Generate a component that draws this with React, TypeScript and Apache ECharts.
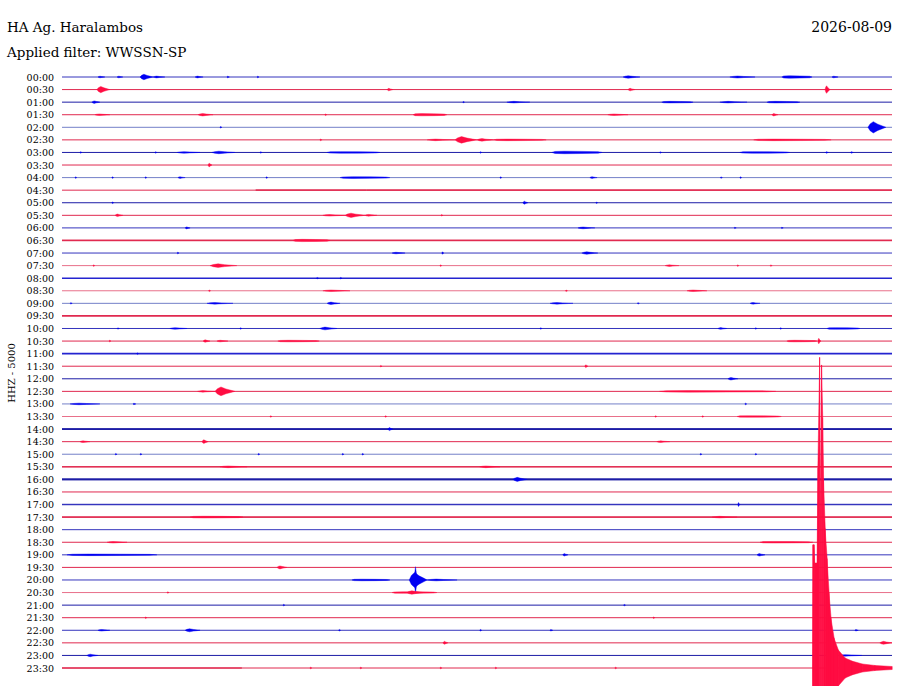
import React, { useEffect, useRef } from "react";
import * as echarts from "echarts";

const STATION = "HA Ag. Haralambos";
const FILTER = "Applied filter: WWSSN-SP";
const DATE = "2026-08-09";
const CHANNEL = "HHZ - 5000";

const TIME_LABELS = [
  "00:00", "00:30", "01:00", "01:30", "02:00", "02:30", "03:00", "03:30",
  "04:00", "04:30", "05:00", "05:30", "06:00", "06:30", "07:00", "07:30",
  "08:00", "08:30", "09:00", "09:30", "10:00", "10:30", "11:00", "11:30",
  "12:00", "12:30", "13:00", "13:30", "14:00", "14:30", "15:00", "15:30",
  "16:00", "16:30", "17:00", "17:30", "18:00", "18:30", "19:00", "19:30",
  "20:00", "20:30", "21:00", "21:30", "22:00", "22:30", "23:00", "23:30",
];
const MINUTES_PER_ROW = 30;

// [row, startMinute, endMinute, amplitude (trace spacings)]
const EVENTS = [
  [0, 1.3, 1.55, 0.06], [0, 1.99, 2.2, 0.06], [0, 2.82, 3.29, 0.22], [0, 3.29, 3.72, 0.07],
  [0, 4.81, 5.1, 0.07], [0, 5.96, 6.05, 0.05], [0, 7.05, 7.12, 0.05], [0, 20.28, 20.89, 0.1],
  [0, 24.14, 25.05, 0.08], [0, 26.02, 27.11, 0.1], [0, 27.83, 28.05, 0.06],
  [1, 1.26, 1.73, 0.25], [1, 11.75, 11.96, 0.1], [1, 20.46, 20.71, 0.1], [1, 27.58, 27.76, 0.3],
  [2, 1.08, 1.37, 0.1], [2, 14.49, 14.55, 0.05], [2, 16.08, 16.91, 0.06], [2, 21.68, 22.81, 0.05],
  [2, 23.78, 24.76, 0.06], [2, 25.48, 26.67, 0.06],
  [3, 1.19, 1.73, 0.06], [3, 4.92, 5.46, 0.1], [3, 9.5, 9.57, 0.05], [3, 12.69, 13.91, 0.09],
  [3, 19.73, 20.46, 0.05], [3, 25.66, 25.88, 0.1],
  [4, 5.71, 5.78, 0.06], [4, 29.13, 29.78, 0.45],
  [5, 9.32, 9.4, 0.06], [5, 13.2, 14.2, 0.06], [5, 14.2, 15.0, 0.26], [5, 15.0, 15.6, 0.1],
  [5, 15.6, 17.5, 0.05], [5, 25.0, 27.8, 0.04],
  [6, 0.65, 0.72, 0.05], [6, 3.36, 3.43, 0.05], [6, 4.16, 4.99, 0.05], [6, 5.42, 6.25, 0.1],
  [6, 7.16, 7.23, 0.05], [6, 9.58, 11.49, 0.06], [6, 15.1, 15.17, 0.05], [6, 17.71, 19.52, 0.1],
  [6, 21.6, 21.67, 0.05], [6, 24.5, 26.3, 0.05], [6, 27.6, 27.7, 0.06], [6, 28.5, 28.6, 0.06],
  [7, 5.28, 5.42, 0.15],
  [8, 0.47, 0.54, 0.05], [8, 1.8, 1.87, 0.05], [8, 3.0, 3.07, 0.05], [8, 4.19, 4.45, 0.06],
  [8, 7.37, 7.44, 0.05], [8, 10.05, 11.85, 0.07], [8, 15.83, 15.9, 0.05], [8, 19.08, 19.34, 0.07],
  [8, 23.8, 23.87, 0.05], [8, 24.5, 24.57, 0.05],
  [10, 1.8, 1.87, 0.05], [10, 16.66, 16.84, 0.12], [10, 19.3, 19.36, 0.05],
  [11, 1.92, 2.2, 0.1], [11, 9.43, 10.23, 0.06], [11, 10.23, 10.95, 0.17], [11, 10.95, 11.38, 0.07],
  [11, 13.7, 13.77, 0.05],
  [12, 4.45, 4.63, 0.08], [12, 18.65, 19.26, 0.07], [12, 24.3, 24.37, 0.05], [12, 26.0, 26.07, 0.05],
  [13, 8.35, 9.69, 0.09],
  [14, 4.16, 4.23, 0.05], [14, 11.93, 12.4, 0.06], [14, 13.73, 13.8, 0.1], [14, 18.79, 19.37, 0.1],
  [15, 1.12, 1.19, 0.05], [15, 5.35, 6.32, 0.14], [15, 13.66, 13.73, 0.05], [15, 21.8, 22.3, 0.04],
  [15, 24.4, 24.47, 0.05], [15, 25.6, 25.67, 0.05],
  [16, 9.2, 9.27, 0.05], [16, 10.05, 10.12, 0.05],
  [17, 5.3, 5.37, 0.05], [17, 9.43, 10.41, 0.05], [17, 18.2, 18.27, 0.05], [17, 22.59, 23.31, 0.05],
  [18, 0.3, 0.37, 0.05], [18, 5.24, 6.18, 0.06], [18, 9.58, 10.05, 0.1], [18, 17.64, 18.47, 0.06],
  [18, 20.8, 20.87, 0.05], [18, 24.87, 25.23, 0.06],
  [20, 2.0, 2.07, 0.05], [20, 3.9, 4.52, 0.06], [20, 6.43, 6.5, 0.05], [20, 9.32, 9.94, 0.11],
  [20, 17.28, 17.35, 0.05], [20, 23.71, 24.03, 0.07], [20, 25.05, 25.12, 0.05],
  [20, 25.95, 26.02, 0.05], [20, 27.65, 28.84, 0.05],
  [21, 1.7, 1.77, 0.05], [21, 5.1, 5.35, 0.1], [21, 5.6, 6.0, 0.05], [21, 7.8, 9.3, 0.04],
  [21, 26.2, 27.29, 0.05], [21, 27.32, 27.43, 0.22],
  [22, 2.7, 2.77, 0.05],
  [23, 11.5, 11.57, 0.05], [23, 18.9, 19.01, 0.12],
  [24, 24.07, 24.43, 0.1],
  [25, 5.53, 6.25, 0.35], [25, 4.9, 5.53, 0.05], [25, 21.6, 25.8, 0.04],
  [26, 0.29, 1.37, 0.05], [26, 2.57, 2.67, 0.06], [26, 24.68, 24.75, 0.05],
  [27, 7.52, 7.59, 0.05], [27, 11.67, 11.74, 0.05], [27, 21.43, 21.5, 0.05], [27, 23.13, 23.2, 0.05],
  [27, 24.4, 26.0, 0.04],
  [28, 11.78, 11.96, 0.12],
  [29, 0.65, 1.01, 0.07], [29, 5.06, 5.28, 0.15], [29, 21.5, 21.97, 0.06],
  [30, 1.92, 1.99, 0.05], [30, 2.82, 2.89, 0.05], [30, 7.08, 7.15, 0.05], [30, 10.12, 10.19, 0.05],
  [30, 10.84, 10.91, 0.05], [30, 23.06, 23.13, 0.05], [30, 25.05, 25.12, 0.05],
  [31, 5.71, 6.69, 0.07], [31, 15.1, 15.83, 0.07],
  [32, 16.3, 16.81, 0.16],
  [34, 24.43, 24.5, 0.16],
  [35, 4.63, 6.54, 0.07], [35, 23.5, 24.4, 0.06],
  [37, 1.63, 2.35, 0.06], [37, 25.23, 27.14, 0.05],
  [38, 0.18, 3.43, 0.04], [38, 18.1, 18.29, 0.1], [38, 25.12, 25.41, 0.1],
  [39, 7.77, 8.13, 0.12],
  [40, 10.48, 11.85, 0.05], [40, 12.55, 13.2, 0.6], [40, 12.74, 12.86, 1.05], [40, 13.2, 14.28, 0.07],
  [41, 3.8, 3.87, 0.05], [41, 11.93, 13.55, 0.06], [41, 12.47, 13.05, 0.14],
  [42, 7.99, 8.06, 0.05], [42, 20.3, 20.37, 0.05],
  [43, 3.0, 3.07, 0.05], [43, 21.36, 21.43, 0.05],
  [44, 1.3, 1.73, 0.06], [44, 4.45, 4.99, 0.12], [44, 10.0, 10.07, 0.05], [44, 15.1, 15.17, 0.05],
  [44, 17.64, 17.74, 0.06], [44, 28.66, 28.78, 0.06],
  [45, 13.77, 13.95, 0.12], [45, 29.56, 30.0, 0.12],
  [46, 0.9, 1.3, 0.1], [46, 28.05, 28.91, 0.05],
  [47, 8.96, 9.03, 0.05], [47, 10.77, 10.84, 0.05], [47, 13.66, 13.73, 0.05], [47, 15.65, 15.72, 0.05],
  [47, 19.98, 20.05, 0.05],
];

// [row, startMinute, endMinute, noise amplitude]
const NOISE_BANDS = [
  [9, 7.0, 11.0, 0.04], [9, 11.0, 30.0, 0.07],
  [13, 0.0, 30.0, 0.07],
  [28, 0.0, 30.0, 0.065],
  [31, 0.0, 30.0, 0.04],
  [32, 0.0, 30.0, 0.07],
  [34, 0.0, 30.0, 0.035],
  [35, 0.0, 30.0, 0.045],
  [47, 0.0, 6.5, 0.04],
];

// the large event on the last trace: [minute, amplitude up, amplitude down]
const QUAKE_ROW = 47;
const QUAKE_ENVELOPE = [
  [27.13, 0, 0], [27.14, 9.8, 9.8], [27.18, 9.8, 9.8], [27.2, 8.35, 8.35], [27.29, 8.35, 8.35],
  [27.32, 15.9, 15.9], [27.38, 24.7, 24.7], [27.41, 11.9, 11.9], [27.45, 24.1, 24.1],
  [27.49, 19.9, 19.9], [27.52, 15.1, 15.1], [27.58, 11.1, 11.1], [27.65, 8.7, 8.7],
  [27.72, 6.0, 6.0], [27.79, 4.0, 4.0], [27.9, 2.4, 2.4], [28.05, 1.45, 1.45],
  [28.3, 0.8, 0.8], [28.55, 0.55, 0.55], [28.92, 0.32, 0.32], [29.38, 0.2, 0.2],
  [30.0, 0.12, 0.12],
];

// ---------- styles ----------
const FONT = '"DejaVu Serif", "Liberation Serif", serif';
const BLUE_TONES: Record<string, string> = { d: "#1c1ca6", m: "#3535bd", l: "#7480c8", b: "#2424d0" };
const RED_TONES: Record<string, string> = { n: "#e0294f", l: "#e8708a" };
const ROW_TONE = [
  "m", "n", "d", "n", "l", "n", "d", "n", "l", "n", "d", "n", "m", "n", "m", "l",
  "b", "l", "l", "n", "m", "n", "b", "n", "d", "n", "l", "l", "d", "n", "l", "n",
  "d", "n", "m", "n", "m", "n", "m", "n", "m", "l", "d", "n", "m", "n", "d", "n",
];
const THICK_ROWS = [16, 22, 19, 28, 32];
const EVENT_BLUE = "#0000f2";
const EVENT_RED = "#ff0c42";

function rowColor(row: number) {
  const t = ROW_TONE[row];
  return row % 2 === 0 ? BLUE_TONES[t] || BLUE_TONES.m : RED_TONES[t] || RED_TONES.n;
}
function eventColor(row: number) {
  return row % 2 === 0 ? EVENT_BLUE : EVENT_RED;
}

export default function App() {
  const ref = useRef<HTMLDivElement>(null);
  useEffect(() => {
    if (!ref.current) return;
    const chart = echarts.init(ref.current, undefined, { renderer: "svg" });

    const baselineData = TIME_LABELS.map((_, i) => [0, i, MINUTES_PER_ROW]);
    const eventData = EVENTS.map((e) => [e[1], e[0], e[2], e[3]]);
    const noiseData = NOISE_BANDS.map((e) => [e[1], e[0], e[2], e[3]]);
    const quakeData = QUAKE_ENVELOPE.map((p) => [p[0], QUAKE_ROW, p[1], p[2]]);

    const option: any = {
      animation: false,
      backgroundColor: "#ffffff",
      grid: { left: 62, right: 8, top: 77, bottom: 18, containLabel: false },
      xAxis: {
        type: "value", min: 0, max: MINUTES_PER_ROW, show: false,
      },
      yAxis: {
        type: "value", min: 0, max: TIME_LABELS.length - 1, interval: 1, inverse: true,
        axisLine: { show: false }, axisTick: { show: false }, splitLine: { show: false },
        axisLabel: {
          margin: 8, color: "#000", fontFamily: FONT, fontSize: 9.5,
          formatter: (v: number) => TIME_LABELS[Math.round(v)] ?? "",
        },
      },
      graphic: [
        { type: "text", left: 7, top: 20, style: { text: STATION, fontFamily: FONT, fontSize: 13.5, fill: "#000" } },
        { type: "text", left: 7, top: 45, style: { text: FILTER, fontFamily: FONT, fontSize: 13.5, fill: "#000" } },
        { type: "text", right: 8, top: 20, style: { text: DATE, fontFamily: FONT, fontSize: 14, fill: "#000" } },
        {
          type: "text", x: 11, y: 373, rotation: Math.PI / 2,
          style: { text: CHANNEL, fontFamily: FONT, fontSize: 10, fill: "#000", align: "center", verticalAlign: "middle" },
        },
      ],
      series: [
        {
          type: "custom", name: "baselines", data: baselineData, encode: { x: [0, 2], y: 1 }, z: 1,
          renderItem: (_p: any, api: any) => {
            const row = api.value(1);
            const a = api.coord([api.value(0), row]);
            const b = api.coord([api.value(2), row]);
            return {
              type: "line",
              shape: { x1: a[0], y1: a[1], x2: b[0], y2: b[1] },
              style: { stroke: rowColor(row), lineWidth: THICK_ROWS.includes(row) ? 1.6 : 1 },
            };
          },
        },
        {
          type: "custom", name: "noise", data: noiseData, encode: { x: [0, 2], y: 1 }, z: 2,
          renderItem: (_p: any, api: any) => {
            const row = api.value(1);
            const a = api.coord([api.value(0), row]);
            const b = api.coord([api.value(2), row]);
            const h = Math.max(0.8, Math.abs(api.size([0, api.value(3)])[1]));
            return {
              type: "rect",
              shape: { x: a[0], y: a[1] - h, width: b[0] - a[0], height: 2 * h },
              style: { fill: rowColor(row), opacity: 0.85 },
            };
          },
        },
        {
          type: "custom", name: "events", data: eventData, encode: { x: [0, 2], y: 1 }, z: 3,
          renderItem: (_p: any, api: any) => {
            const row = api.value(1);
            const a = api.coord([api.value(0), row]);
            const b = api.coord([api.value(2), row]);
            const h = Math.max(0.8, Math.abs(api.size([0, api.value(3)])[1]));
            const x0 = a[0];
            const x1 = Math.max(b[0], x0 + 1.4);
            const w = x1 - x0;
            const y = a[1];
            const long = w > 30 && h < 1.6;
            const pts = long
              ? [
                  [x0, y], [x0 + w * 0.06, y - h * 0.8], [x0 + w * 0.25, y - h], [x0 + w * 0.6, y - h * 0.85],
                  [x0 + w * 0.92, y - h * 0.6], [x1, y], [x0 + w * 0.92, y + h * 0.6],
                  [x0 + w * 0.6, y + h * 0.85], [x0 + w * 0.25, y + h], [x0 + w * 0.06, y + h * 0.8],
                ]
              : [
                  [x0, y], [x0 + w * 0.12, y - h * 0.6], [x0 + w * 0.3, y - h], [x0 + w * 0.55, y - h * 0.55],
                  [x0 + w * 0.8, y - h * 0.25], [x1, y], [x0 + w * 0.8, y + h * 0.25],
                  [x0 + w * 0.55, y + h * 0.55], [x0 + w * 0.3, y + h], [x0 + w * 0.12, y + h * 0.6],
                ];
            return {
              type: "polygon",
              shape: { points: pts },
              style: { fill: eventColor(row), stroke: eventColor(row), lineWidth: 0.4 },
            };
          },
        },
        {
          type: "custom", name: "quake", data: quakeData, encode: { x: 0, y: 1 }, z: 4,
          renderItem: (params: any, api: any) => {
            const i = params.dataIndex;
            if (i >= quakeData.length - 1) return { type: "group", children: [] };
            const cur = quakeData[i];
            const nxt = quakeData[i + 1];
            const a = api.coord([cur[0], cur[1]]);
            const b = api.coord([nxt[0], nxt[1]]);
            const ua = Math.abs(api.size([0, cur[2]])[1]);
            const da = Math.abs(api.size([0, cur[3]])[1]);
            const ub = Math.abs(api.size([0, nxt[2]])[1]);
            const db = Math.abs(api.size([0, nxt[3]])[1]);
            return {
              type: "polygon",
              shape: {
                points: [
                  [a[0], a[1] - Math.max(ua, 0.6)], [b[0] + 0.2, b[1] - Math.max(ub, 0.6)],
                  [b[0] + 0.2, b[1] + Math.max(db, 0.6)], [a[0], a[1] + Math.max(da, 0.6)],
                ],
              },
              style: { fill: EVENT_RED, stroke: EVENT_RED, lineWidth: 0.5 },
            };
          },
        },
      ],
    };
    chart.setOption(option);
    return () => chart.dispose();
  }, []);

  return (
    <div
      ref={ref}
      style={{ position: "absolute", left: 0, top: 0, width: 900, height: 686, background: "#fff" }}
    />
  );
}
